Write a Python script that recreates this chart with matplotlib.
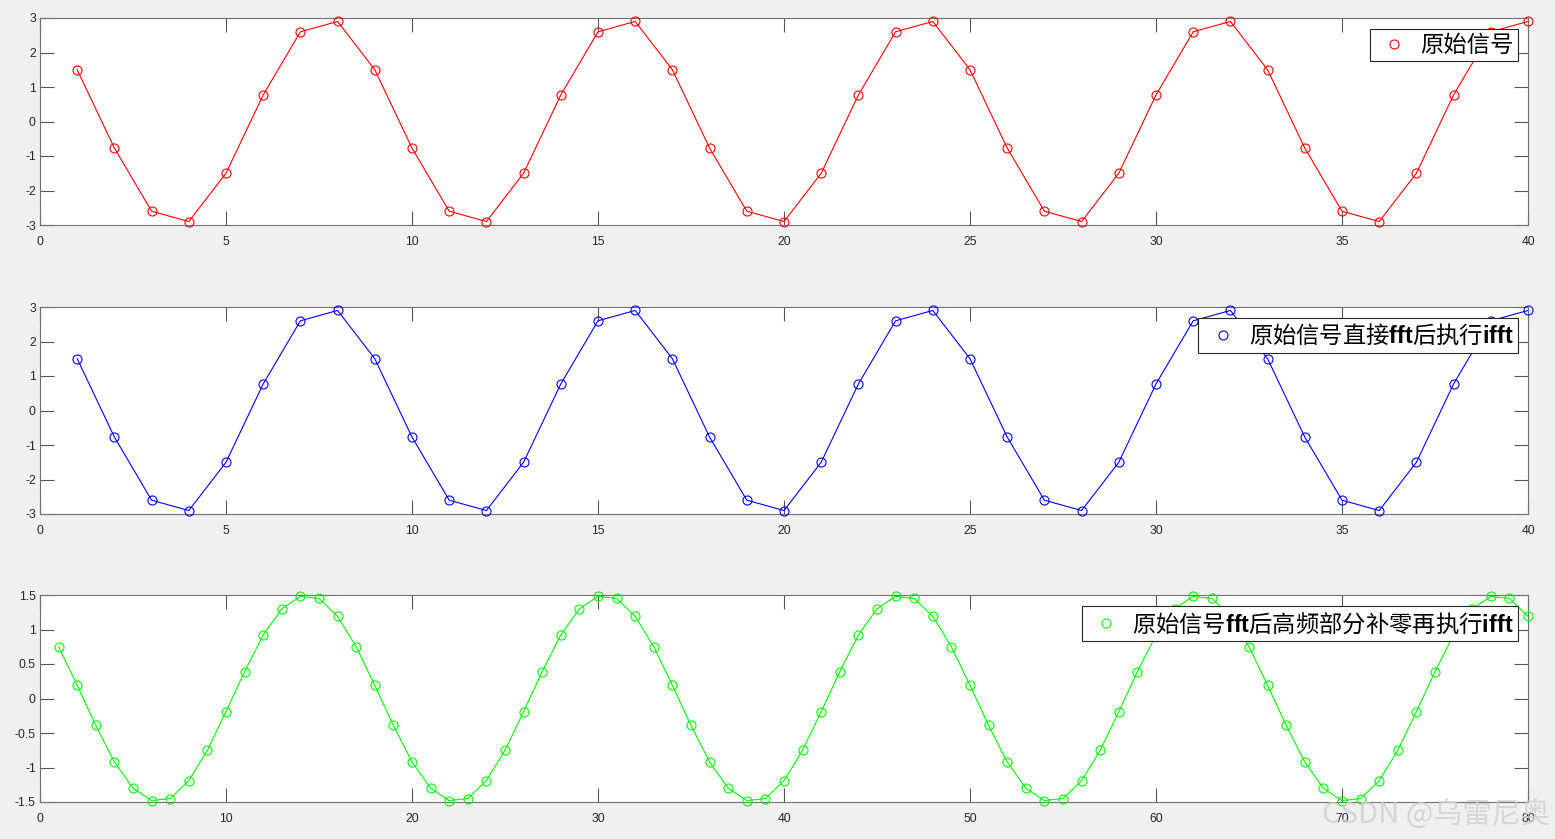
import matplotlib.pyplot as plt

plt.rcParams['font.family'] = ['Liberation Sans', 'DejaVu Sans']
plt.rcParams['mathtext.fontset'] = 'custom'
plt.rcParams['mathtext.bf'] = 'Liberation Sans:bold'

# 原始信号 (n = 1..40)
n1 = list(range(1, 41))
orig = [1.5, -0.77, -2.6, -2.9, -1.5, 0.77, 2.6, 2.9,
        1.5, -0.77, -2.6, -2.9, -1.5, 0.77, 2.6, 2.9,
        1.5, -0.77, -2.6, -2.9, -1.5, 0.77, 2.6, 2.9,
        1.5, -0.77, -2.6, -2.9, -1.5, 0.77, 2.6, 2.9,
        1.5, -0.77, -2.6, -2.9, -1.5, 0.77, 2.6, 2.9]

# fft -> ifft, same samples
back = [1.5, -0.77, -2.6, -2.9, -1.5, 0.77, 2.6, 2.9,
        1.5, -0.77, -2.6, -2.9, -1.5, 0.77, 2.6, 2.9,
        1.5, -0.77, -2.6, -2.9, -1.5, 0.77, 2.6, 2.9,
        1.5, -0.77, -2.6, -2.9, -1.5, 0.77, 2.6, 2.9,
        1.5, -0.77, -2.6, -2.9, -1.5, 0.77, 2.6, 2.9]

# zero padded high frequency part (n = 1..80)
n3 = list(range(1, 81))
padded = [0.75, 0.19, -0.39, -0.92, -1.30, -1.48, -1.45, -1.19,
          -0.75, -0.19, 0.39, 0.92, 1.30, 1.48, 1.45, 1.19,
          0.75, 0.19, -0.39, -0.92, -1.30, -1.48, -1.45, -1.19,
          -0.75, -0.19, 0.39, 0.92, 1.30, 1.48, 1.45, 1.19,
          0.75, 0.19, -0.39, -0.92, -1.30, -1.48, -1.45, -1.19,
          -0.75, -0.19, 0.39, 0.92, 1.30, 1.48, 1.45, 1.19,
          0.75, 0.19, -0.39, -0.92, -1.30, -1.48, -1.45, -1.19,
          -0.75, -0.19, 0.39, 0.92, 1.30, 1.48, 1.45, 1.19,
          0.75, 0.19, -0.39, -0.92, -1.30, -1.48, -1.45, -1.19,
          -0.75, -0.19, 0.39, 0.92, 1.30, 1.48, 1.45, 1.19]

labels = ['原始信号',
          r'原始信号直接$\mathbf{fft}$后执行$\mathbf{ifft}$',
          r'原始信号$\mathbf{fft}$后高频部分补零再执行$\mathbf{ifft}$']
colors = ['#ff0000', '#0000ff', '#00ff00']

W, H = 1555, 839
fig = plt.figure(figsize=(W / 100, H / 100), dpi=100, facecolor='#f0f0f0')

panels = [
    (n1, orig, 225, (0, 40), range(0, 41, 5), (-3, 3), [-3, -2, -1, 0, 1, 2, 3], ['-3', '-2', '-1', '0', '1', '2', '3']),
    (n1, back, 514, (0, 40), range(0, 41, 5), (-3, 3), [-3, -2, -1, 0, 1, 2, 3], ['-3', '-2', '-1', '0', '1', '2', '3']),
    (n3, padded, 802, (0, 80), range(0, 81, 10), (-1.5, 1.5), [-1.5, -1, -0.5, 0, 0.5, 1, 1.5],
     ['-1.5', '-1', '-0.5', '0', '0.5', '1', '1.5']),
]

for i, (x, y, bot, xl, xt, yl, yt, ytl) in enumerate(panels):
    ax = fig.add_axes([40 / W, 1 - bot / H, (1528 - 40) / W, 207 / H])
    ax.set_facecolor('white')
    ax.plot(x, y, 'o', mfc='none', mec=colors[i], ms=6.5, mew=0.8,
            label=labels[i], clip_on=False, zorder=3)
    ax.plot(x, y, '-', color=colors[i], lw=0.8, zorder=2)
    ax.set_xlim(*xl)
    ax.set_ylim(*yl)
    ax.set_xticks(list(xt))
    ax.set_yticks(yt)
    ax.set_yticklabels(ytl)
    ax.tick_params(direction='in', length=10, width=0.8, colors='#555555',
                   labelcolor='#262626', labelsize=8.7, top=True, right=True)
    ax.tick_params(axis='x', pad=8)
    ax.tick_params(axis='y', pad=3)
    for s in ax.spines.values():
        s.set_color('#707070')
        s.set_linewidth(0.8)
    leg = ax.legend(loc='upper right', bbox_to_anchor=(1 - 10 / 1488, 1 - 11 / 207),
                    borderaxespad=0, fancybox=False, framealpha=1,
                    edgecolor='#262626', borderpad=0.2,
                    handlelength=1.7, handletextpad=0.25,
                    prop={'family': ['Noto Sans CJK SC', 'DejaVu Sans'], 'size': 16.8})
    leg.get_frame().set_linewidth(0.8)

fig.text(1550 / W, 1 - 830 / H, 'CSDN @乌雷尼奥', ha='right', va='bottom',
         fontsize=21, color='#cfcfcf', alpha=0.8,
         family=['Noto Sans CJK SC', 'DejaVu Sans'])

fig.savefig('out.png', dpi=100, facecolor=fig.get_facecolor())
